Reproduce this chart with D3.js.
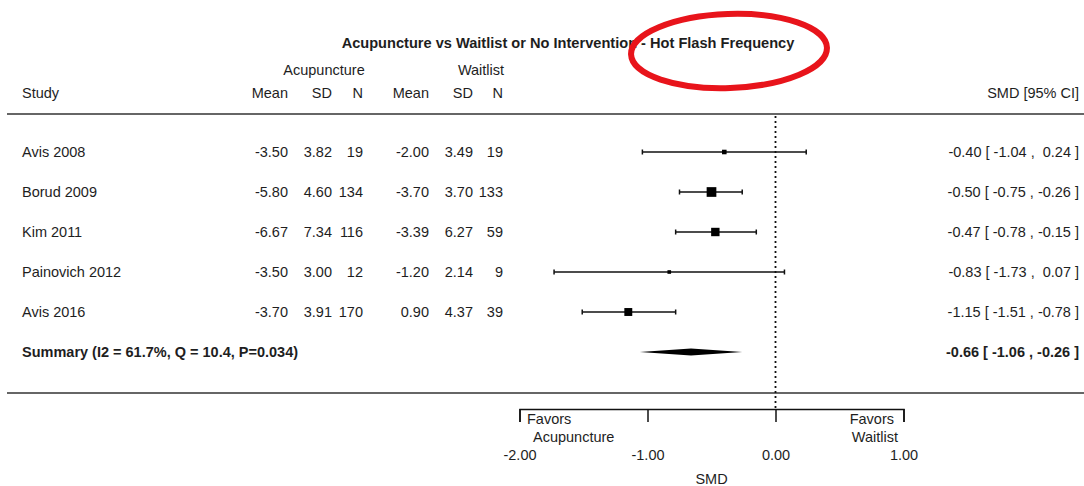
<!DOCTYPE html>
<html lang="en">
<meta charset="utf-8">
<title>Acupuncture vs Waitlist - Hot Flash Frequency</title>
<style>
	body {
	    margin: 0;
	    background: #fff;
	    font-family: "Liberation Sans", Arial, sans-serif;
	}
	text {
	    fill: #1e1e1e;
	    font-size: 14.5px;
	    white-space: pre;
	}
	.bold { font-weight: bold; }
	.title { font-weight: bold; font-size: 14.6px; }
	.rule { stroke: #333; stroke-width: 1.5; }
</style>
<body>
<script src="https://cdn.jsdelivr.net/npm/d3@7"></script>
<svg class="chart"></svg>
<script>
	// study data
	var studies   = ["Avis 2008", "Borud 2009", "Kim 2011", "Painovich 2012", "Avis 2016"];
	var acuMean   = ["-3.50", "-5.80", "-6.67", "-3.50", "-3.70"];
	var acuSD     = ["3.82", "4.60", "7.34", "3.00", "3.91"];
	var acuN      = [19, 134, 116, 12, 170];
	var waitMean  = ["-2.00", "-3.70", "-3.39", "-1.20", "0.90"];
	var waitSD    = ["3.49", "3.70", "6.27", "2.14", "4.37"];
	var waitN     = [19, 133, 59, 9, 39];
	var smd       = [-0.40, -0.50, -0.47, -0.83, -1.15];
	var lower     = [-1.04, -0.75, -0.78, -1.73, -1.51];
	var upper     = [0.24, -0.26, -0.15, 0.07, -0.78];
	var weight    = [8, 36, 27, 5, 24];   // relative weight (%), drives box size

	var summary = {label: "Summary (I2 = 61.7%, Q = 10.4, P=0.034)", est: -0.66, lo: -1.06, hi: -0.26};
	var xTicks = [-2, -1, 0, 1];

	var width = 1084, height = 486;

	var svg = d3.select(".chart")
	    .attr("width", width)
	    .attr("height", height);

	var x = d3.scaleLinear().domain([-2, 1]).range([519.5, 903.5]);
	var rows = studies.map(function(d, i) { return i; }).concat([studies.length]);
	var y = d3.scalePoint().domain(rows).range([152, 352]);
	var box = d3.scaleSqrt().domain([0, d3.max(weight)]).range([0, 9.7]);

	var f2 = function(v) { return (v < 0 ? "-" : " ") + Math.abs(v).toFixed(2); };
	var ciText = function(e, lo, hi) { return f2(e).trim() + " [ " + f2(lo).trim() + " , " + f2(hi) + " ]"; };

	// title
	svg.append("text").attr("class", "title")
	    .attr("x", 568).attr("y", 48)
	    .attr("text-anchor", "middle")
	    .text("Acupuncture vs Waitlist or No Intervention - Hot Flash Frequency");

	// group headers
	svg.append("text").attr("x", 324).attr("y", 75).attr("text-anchor", "middle").text("Acupuncture");
	svg.append("text").attr("x", 481).attr("y", 75).attr("text-anchor", "middle").text("Waitlist");

	var cols = [
	    {h: "Mean", x: 288, v: acuMean},
	    {h: "SD",   x: 332, v: acuSD},
	    {h: "N",    x: 363, v: acuN},
	    {h: "Mean", x: 429, v: waitMean},
	    {h: "SD",   x: 473, v: waitSD},
	    {h: "N",    x: 503, v: waitN}
	];

	svg.append("text").attr("x", 22).attr("y", 98).text("Study");
	cols.forEach(function(c) {
	    svg.append("text").attr("x", c.x).attr("y", 98).attr("text-anchor", "end").text(c.h);
	});
	svg.append("text").attr("x", 1079).attr("y", 98).attr("text-anchor", "end").text("SMD [95% CI]");

	// rules
	svg.append("line").attr("class", "rule").attr("x1", 7).attr("x2", width).attr("y1", 114).attr("y2", 114);
	svg.append("line").attr("class", "rule").attr("x1", 7).attr("x2", width).attr("y1", 393).attr("y2", 393);

	// null line
	svg.append("line")
	    .attr("x1", x(0)).attr("x2", x(0))
	    .attr("y1", 116).attr("y2", 408)
	    .attr("stroke", "#111").attr("stroke-width", 1.8)
	    .attr("stroke-dasharray", "2,3");

	// table rows
	studies.forEach(function(s, i) {
	    var yy = y(i) + 5;
	    svg.append("text").attr("x", 22).attr("y", yy).text(s);
	    cols.forEach(function(c) {
	        svg.append("text").attr("x", c.x).attr("y", yy).attr("text-anchor", "end").text(c.v[i]);
	    });
	    svg.append("text").attr("x", 1079).attr("y", yy).attr("text-anchor", "end")
	        .text(ciText(smd[i], lower[i], upper[i]));
	});

	// CI lines
	var g = svg.append("g").attr("stroke", "#111").attr("stroke-width", 1.5);
	g.selectAll(".ci").data(studies).enter().append("line")
	    .attr("x1", function(d, i) { return x(lower[i]); })
	    .attr("x2", function(d, i) { return x(upper[i]); })
	    .attr("y1", function(d, i) { return y(i); })
	    .attr("y2", function(d, i) { return y(i); });
	g.selectAll(".capl").data(studies).enter().append("line")
	    .attr("x1", function(d, i) { return x(lower[i]); })
	    .attr("x2", function(d, i) { return x(lower[i]); })
	    .attr("y1", function(d, i) { return y(i) - 2.5; })
	    .attr("y2", function(d, i) { return y(i) + 2.5; });
	g.selectAll(".capr").data(studies).enter().append("line")
	    .attr("x1", function(d, i) { return x(upper[i]); })
	    .attr("x2", function(d, i) { return x(upper[i]); })
	    .attr("y1", function(d, i) { return y(i) - 2.5; })
	    .attr("y2", function(d, i) { return y(i) + 2.5; });

	// boxes
	svg.selectAll(".box").data(studies).enter().append("rect")
	    .attr("x", function(d, i) { return x(smd[i]) - box(weight[i]) / 2; })
	    .attr("y", function(d, i) { return y(i) - box(weight[i]) / 2; })
	    .attr("width", function(d, i) { return box(weight[i]); })
	    .attr("height", function(d, i) { return box(weight[i]); })
	    .attr("fill", "#000");

	// summary
	var ys = y(studies.length);
	svg.append("text").attr("class", "bold").attr("x", 22).attr("y", ys + 5).text(summary.label);
	svg.append("text").attr("class", "bold").attr("x", 1079).attr("y", ys + 5).attr("text-anchor", "end")
	    .text(ciText(summary.est, summary.lo, summary.hi));
	svg.append("path")
	    .attr("d", "M" + x(summary.lo) + "," + ys +
	               "L" + x(summary.est) + "," + (ys - 3.5) +
	               "L" + x(summary.hi) + "," + ys +
	               "L" + x(summary.est) + "," + (ys + 3.5) + "Z")
	    .attr("fill", "#000");

	// axis
	var xAxis = d3.axisBottom(x).tickValues(xTicks).tickSize(13).tickPadding(28)
	    .tickFormat(function(d) { return d3.format(".2f")(d).replace("\u2212", "-"); });
	var ax = svg.append("g").attr("transform", "translate(0,409)").call(xAxis);
	ax.select(".domain").attr("stroke", "#111").attr("stroke-width", 1.5);
	ax.selectAll(".tick line").attr("stroke", "#111").attr("stroke-width", 1.5);
	ax.selectAll(".tick text").style("font-size", "14.5px").attr("fill", "#1e1e1e")
	    .style("font-family", "'Liberation Sans', Arial, sans-serif");

	svg.append("text").attr("x", 527).attr("y", 424).text("Favors");
	svg.append("text").attr("x", 533).attr("y", 442).text("Acupuncture");
	svg.append("text").attr("x", 894).attr("y", 424).attr("text-anchor", "end").text("Favors");
	svg.append("text").attr("x", 898).attr("y", 442).attr("text-anchor", "end").text("Waitlist");
	svg.append("text").attr("x", x(0) - 64).attr("y", 484).attr("text-anchor", "middle").text("SMD");

	// red annotation circle
	svg.append("ellipse")
	    .attr("cx", 729).attr("cy", 51).attr("rx", 98).attr("ry", 37)
	    .attr("transform", "rotate(-2,729,51)")
	    .attr("fill", "none").attr("stroke", "#e8141b").attr("stroke-width", 6);
</script>
</body>
</html>
